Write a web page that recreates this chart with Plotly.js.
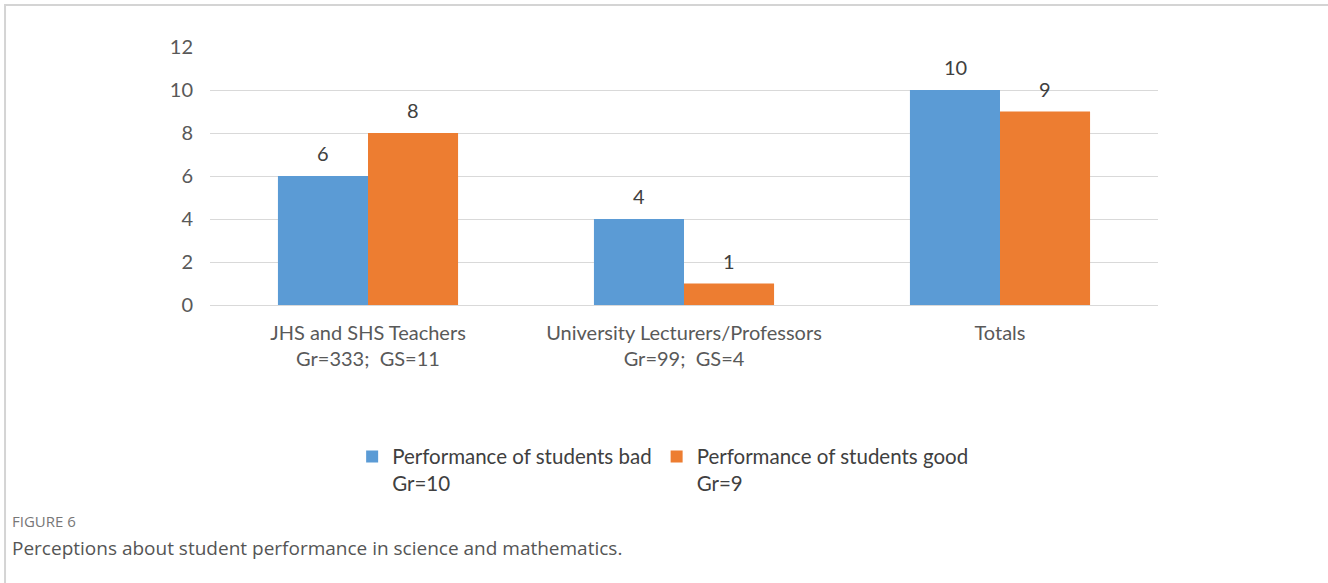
<!DOCTYPE html>
<html>
<head>
<meta charset="utf-8">
<script src="https://cdn.plot.ly/plotly-3.0.1.min.js"></script>
<style>
  html, body { margin: 0; padding: 0; background: #fff; }
  #chart { width: 1328px; height: 583px; }
</style>
</head>
<body>
<div id="chart"></div>
<script>
const categories = ["JHS and SHS Teachers<br>Gr=333;  GS=11", "University Lecturers/Professors<br>Gr=99;  GS=4", "Totals"];
const badValues = [6, 4, 10];
const goodValues = [8, 1, 9];
const seriesNames = ["Performance of students bad<br>Gr=10", "Performance of students good<br>Gr=9"];
const yTicks = [0, 2, 4, 6, 8, 10, 12];
const captionLabel = "FIGURE 6";
const captionText = "Perceptions about student performance in science and mathematics.";

const chartFont = "Lato, 'Open Sans', sans-serif";
const colors = ["#5B9BD5", "#ED7D31"];

const traces = [
  { type: "bar", x: categories, y: badValues, name: seriesNames[0], marker: { color: colors[0] } },
  { type: "bar", x: categories, y: goodValues, name: seriesNames[1], marker: { color: colors[1] } }
];

// value labels placed at each bar's data position through the axes
const labelFont = { family: chartFont, size: 20, color: "#404040" };
const valueLabels = [];
[badValues, goodValues].forEach((vals, s) => {
  vals.forEach((v, i) => {
    valueLabels.push({
      x: categories[i], y: v, xref: "x", yref: "y", text: String(v),
      showarrow: false, xanchor: "center", yanchor: "bottom",
      xshift: s === 0 ? -45 : 45, yshift: 9, font: labelFont
    });
  });
});

const layout = {
  width: 1328, height: 583,
  margin: { l: 210, r: 170, t: 47, b: 278 },
  paper_bgcolor: "#ffffff", plot_bgcolor: "#ffffff",
  font: { family: chartFont, size: 20, color: "#595959" },
  barmode: "group", bargap: 0.43, bargroupgap: 0,
  showlegend: true,
  legend: {
    orientation: "h", x: 0.478, xanchor: "center", y: -0.51, yanchor: "top",
    valign: "top", font: { size: 20.5, color: "#404040", family: chartFont },
    itemwidth: 30, traceorder: "normal"
  },
  xaxis: {
    type: "category", showgrid: false, showline: false, zeroline: false,
    ticks: "", tickfont: { size: 20, color: "#595959" }, ticklabelstandoff: 14
  },
  yaxis: {
    range: [0, 12], tickvals: yTicks, ticktext: yTicks.map(String),
    showgrid: true, gridcolor: "#d9d9d9", gridwidth: 1,
    zeroline: true, zerolinecolor: "#d9d9d9", zerolinewidth: 1,
    showline: false, ticks: "", ticklabelstandoff: 16,
    tickfont: { size: 20, color: "#595959" }
  },
  shapes: [
    { type: "rect", xref: "paper", yref: "paper", x0: -0.2162, x1: 1.5, y0: -1.5, y1: 1.1628,
      line: { color: "#d4d4d4", width: 2 }, fillcolor: "rgba(0,0,0,0)", layer: "below" }
  ],
  annotations: valueLabels.concat([
    { text: captionLabel, xref: "paper", yref: "paper", x: -0.2110, y: -0.837, xanchor: "left", yanchor: "middle",
      showarrow: false, font: { family: "'Open Sans', sans-serif", size: 15, color: "#777777" } },
    { text: captionText, xref: "paper", yref: "paper", x: -0.2110, y: -0.942, xanchor: "left", yanchor: "middle",
      showarrow: false, font: { family: "'Open Sans', sans-serif", size: 19, color: "#555555" } }
  ])
};

Plotly.newPlot("chart", traces, layout, { displayModeBar: false, staticPlot: true });
</script>
</body>
</html>
